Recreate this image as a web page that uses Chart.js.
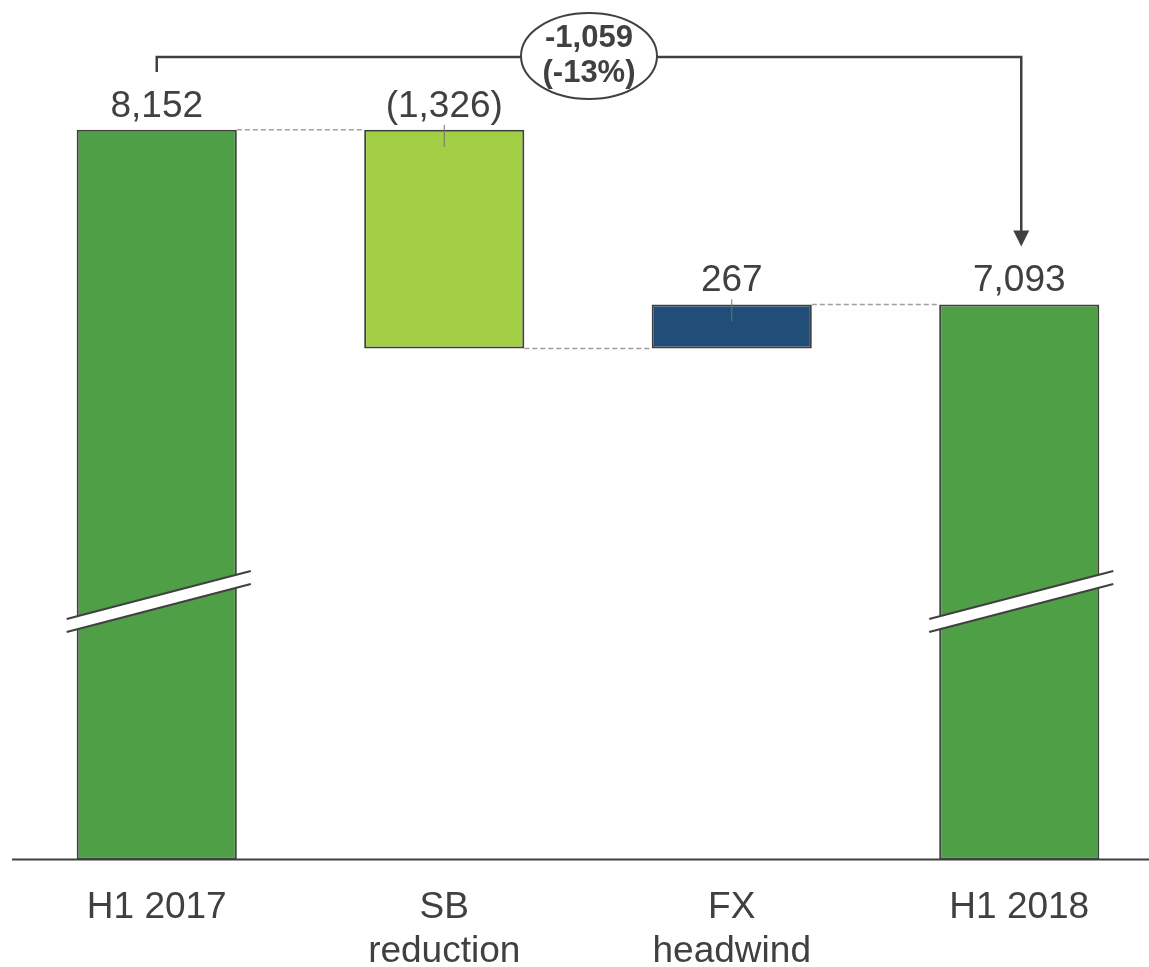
<!DOCTYPE html>
<html>
<head>
<meta charset="utf-8">
<script src="https://cdn.jsdelivr.net/npm/chart.js@4.4.1/dist/chart.umd.min.js"></script>
<style>
  html, body { margin: 0; padding: 0; background: #fff; overflow: hidden; }
  #wrap { width: 1163px; height: 1000px; position: relative; }
</style>
</head>
<body>
<div id="wrap"><canvas id="waterfall"></canvas></div>
<script>
// waterfall data
const categories = [['H1 2017'], ['SB', 'reduction'], ['FX', 'headwind'], ['H1 2018']];
const values = [8152, -1326, 267, 7093];
const kinds = ['total', 'delta', 'delta', 'total'];
const valueLabels = ['8,152', '(1,326)', '267', '7,093'];
const barColors = ['#4E9F45', '#A2CF43', '#214E78', '#4E9F45'];
const totalChange = ['-1,059', '(-13%)'];

// broken axis: bars of totals start at the axis minimum
const axisMin = 3725;
const axisMax = 8940;
const breakValue = 5290;

const textColor = '#404040';
const fontFamily = "'Liberation Sans', Arial, sans-serif";

// build floating ranges from the running total
let running = 0;
const ranges = values.map((v, i) => {
    if (kinds[i] === 'total') {
        running = v;
        return [axisMin, v];
    }
    const start = running;
    running += v;
    return [start, running];
});

const waterfallExtras = {
    id: 'waterfallExtras',
    afterDatasetsDraw(chart) {
        const ctx = chart.ctx;
        const y = chart.scales.y;
        const bars = chart.getDatasetMeta(0).data;

        ctx.save();

        // dashed connectors between bars
        ctx.strokeStyle = '#A0A0A0';
        ctx.lineWidth = 1.5;
        ctx.setLineDash([5, 3]);
        for (let i = 0; i < bars.length - 1; i++) {
            const level = y.getPixelForValue(ranges[i][1]);
            ctx.beginPath();
            ctx.moveTo(bars[i].x + bars[i].width / 2, level);
            ctx.lineTo(bars[i + 1].x - bars[i + 1].width / 2, level);
            ctx.stroke();
        }
        ctx.setLineDash([]);

        // axis break marks on the total bars
        const by = y.getPixelForValue(breakValue);
        bars.forEach((b, i) => {
            if (kinds[i] !== 'total') return;
            const x0 = b.x - b.width / 2 - 10;
            const x1 = b.x + b.width / 2 + 14;
            const rise = 48, half = 6.5;
            ctx.fillStyle = '#fff';
            ctx.beginPath();
            ctx.moveTo(x0, by + rise / 2 - half);
            ctx.lineTo(x1, by - rise / 2 - half);
            ctx.lineTo(x1, by - rise / 2 + half);
            ctx.lineTo(x0, by + rise / 2 + half);
            ctx.closePath();
            ctx.fill();
            ctx.strokeStyle = textColor;
            ctx.lineWidth = 2;
            [-half, half].forEach(d => {
                ctx.beginPath();
                ctx.moveTo(x0, by + rise / 2 + d);
                ctx.lineTo(x1, by - rise / 2 + d);
                ctx.stroke();
            });
        });

        // value labels and leader ticks
        ctx.font = '37px ' + fontFamily;
        ctx.fillStyle = textColor;
        ctx.textAlign = 'center';
        ctx.textBaseline = 'alphabetic';
        bars.forEach((b, i) => {
            const top = Math.min(y.getPixelForValue(ranges[i][0]), y.getPixelForValue(ranges[i][1]));
            ctx.fillText(valueLabels[i], b.x, top - 13);
            if (kinds[i] === 'delta') {
                ctx.strokeStyle = '#707070';
                ctx.lineWidth = 1;
                ctx.beginPath();
                ctx.moveTo(b.x, top - 5);
                ctx.lineTo(b.x, top + 17);
                ctx.stroke();
            }
        });

        // overall change bracket with arrow
        const first = bars[0], last = bars[bars.length - 1];
        const lineY = 57;
        const lx = first.x, rx = last.x + 2;
        const tip = y.getPixelForValue(ranges[ranges.length - 1][1]) - 58;
        ctx.strokeStyle = textColor;
        ctx.lineWidth = 2.5;
        ctx.beginPath();
        ctx.moveTo(lx, lineY + 15);
        ctx.lineTo(lx, lineY);
        ctx.lineTo(rx, lineY);
        ctx.lineTo(rx, tip - 14);
        ctx.stroke();
        ctx.fillStyle = textColor;
        ctx.beginPath();
        ctx.moveTo(rx - 8, tip - 16);
        ctx.lineTo(rx + 8, tip - 16);
        ctx.lineTo(rx, tip);
        ctx.closePath();
        ctx.fill();

        // ellipse with total change
        const cx = (lx + rx) / 2, cy = 56;
        ctx.fillStyle = '#fff';
        ctx.lineWidth = 2;
        ctx.beginPath();
        ctx.ellipse(cx, cy, 68, 43, 0, 0, Math.PI * 2);
        ctx.fill();
        ctx.stroke();
        ctx.fillStyle = textColor;
        ctx.font = 'bold 31px ' + fontFamily;
        ctx.textBaseline = 'middle';
        ctx.fillText(totalChange[0], cx, cy - 18);
        ctx.fillText(totalChange[1], cx, cy + 17);

        // x axis line
        const area = chart.chartArea;
        ctx.strokeStyle = textColor;
        ctx.lineWidth = 2;
        ctx.beginPath();
        ctx.moveTo(area.left - 1, area.bottom);
        ctx.lineTo(area.right, area.bottom);
        ctx.stroke();

        ctx.restore();
    }
};

const ctx = document.getElementById('waterfall').getContext('2d');
const chart = new Chart(ctx, {
    type: 'bar',
    data: {
        labels: categories,
        datasets: [{
            data: ranges,
            backgroundColor: barColors,
            borderColor: textColor,
            borderWidth: 2,
            borderSkipped: false,
            barPercentage: 0.557,
            categoryPercentage: 1
        }]
    },
    options: {
        responsive: true,
        maintainAspectRatio: false,
        animation: false,
        layout: { padding: { left: 13, right: 0, top: 0, bottom: 0 } },
        plugins: {
            legend: { display: false },
            tooltip: { enabled: false },
            title: { display: false }
        },
        scales: {
            x: {
                grid: { display: false, drawTicks: false },
                border: { display: false },
                ticks: {
                    color: textColor,
                    padding: 27,
                    maxRotation: 0,
                    font: { family: fontFamily, size: 37, lineHeight: 1.17 }
                }
            },
            y: {
                display: false,
                min: axisMin,
                max: axisMax
            }
        }
    },
    plugins: [waterfallExtras]
});
</script>
</body>
</html>
